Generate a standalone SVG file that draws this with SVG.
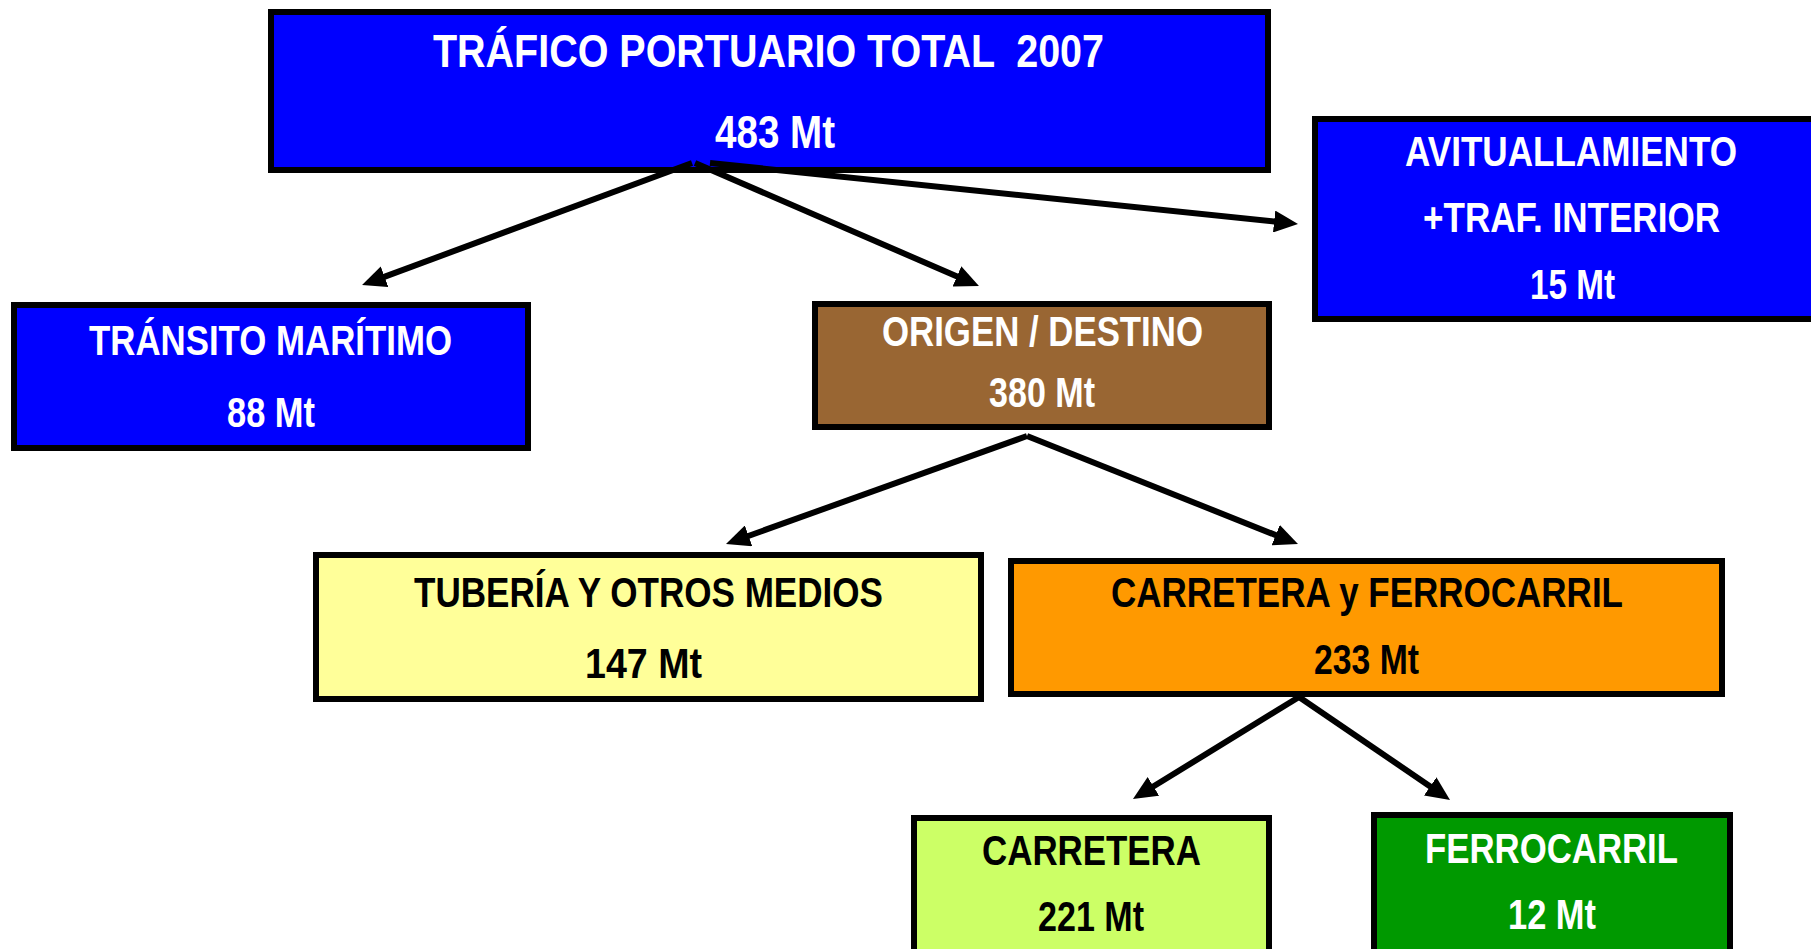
<svg xmlns="http://www.w3.org/2000/svg" width="1811" height="949" viewBox="0 0 1811 949">
<style>
.box{stroke:#000;stroke-width:6}
.t{font-family:"Liberation Sans Narrow","Liberation Sans",Arial,sans-serif;font-weight:bold;font-size:43px}
.big{font-size:46px}
.w{fill:#fff}
.k{fill:#000}
.c{fill:none;stroke:#000;stroke-width:6}
</style>
<defs>
<marker id="ah" markerUnits="userSpaceOnUse" markerWidth="24" markerHeight="22" refX="4" refY="11" orient="auto" viewBox="0 0 24 22">
<path d="M0,0 L24,11 L0,22 z" fill="#000"/>
</marker>
</defs>
<rect width="1811" height="949" fill="#fff"/>
<g id="total">
<rect class="box" x="271" y="12" width="997" height="158" fill="#0000FF"/>
<text class="t big w" x="433" y="67" textLength="671" lengthAdjust="spacingAndGlyphs" xml:space="preserve">TRÁFICO PORTUARIO TOTAL  2007</text>
<text class="t big w" x="715" y="148" textLength="120" lengthAdjust="spacingAndGlyphs">483 Mt</text>
</g>
<g id="transito">
<rect class="box" x="14" y="305" width="514" height="143" fill="#0000FF"/>
<text class="t w" x="89" y="355" textLength="363" lengthAdjust="spacingAndGlyphs">TRÁNSITO MARÍTIMO</text>
<text class="t w" x="227" y="427" textLength="88" lengthAdjust="spacingAndGlyphs">88 Mt</text>
</g>
<g id="origen">
<rect class="box" x="815" y="304" width="454" height="123" fill="#996633"/>
<text class="t w" x="882" y="346" textLength="321" lengthAdjust="spacingAndGlyphs">ORIGEN / DESTINO</text>
<text class="t w" x="989" y="407" textLength="106" lengthAdjust="spacingAndGlyphs">380 Mt</text>
</g>
<g id="avituallamiento">
<rect class="box" x="1315" y="119" width="520" height="200" fill="#0000FF"/>
<text class="t w" x="1405" y="166" textLength="332" lengthAdjust="spacingAndGlyphs">AVITUALLAMIENTO</text>
<text class="t w" x="1423" y="232" textLength="297" lengthAdjust="spacingAndGlyphs">+TRAF. INTERIOR</text>
<text class="t w" x="1530" y="299" textLength="85" lengthAdjust="spacingAndGlyphs">15 Mt</text>
</g>
<g id="tuberia">
<rect class="box" x="316" y="555" width="665" height="144" fill="#FFFF99"/>
<text class="t k" x="414" y="607" textLength="469" lengthAdjust="spacingAndGlyphs">TUBERÍA Y OTROS MEDIOS</text>
<text class="t k" x="585" y="678" textLength="117" lengthAdjust="spacingAndGlyphs">147 Mt</text>
</g>
<g id="carretera-ferrocarril">
<rect class="box" x="1011" y="561" width="711" height="133" fill="#FF9900"/>
<text class="t k" x="1111" y="607" textLength="512" lengthAdjust="spacingAndGlyphs">CARRETERA y FERROCARRIL</text>
<text class="t k" x="1314" y="674" textLength="105" lengthAdjust="spacingAndGlyphs">233 Mt</text>
</g>
<g id="carretera">
<rect class="box" x="914" y="818" width="355" height="200" fill="#CCFF66"/>
<text class="t k" x="982" y="865" textLength="219" lengthAdjust="spacingAndGlyphs">CARRETERA</text>
<text class="t k" x="1038" y="931" textLength="106" lengthAdjust="spacingAndGlyphs">221 Mt</text>
</g>
<g id="ferrocarril">
<rect class="box" x="1374" y="815" width="356" height="200" fill="#009900"/>
<text class="t w" x="1425" y="863" textLength="253" lengthAdjust="spacingAndGlyphs">FERROCARRIL</text>
<text class="t w" x="1508" y="929" textLength="88" lengthAdjust="spacingAndGlyphs">12 Mt</text>
</g>
<g id="connectors">
<line class="c" x1="692" y1="163" x2="380.8" y2="278.1" marker-end="url(#ah)"/>
<line class="c" x1="695" y1="163" x2="960.6" y2="278" marker-end="url(#ah)"/>
<line class="c" x1="710" y1="163" x2="1278.1" y2="221.9" marker-end="url(#ah)"/>
<line class="c" x1="1027" y1="436" x2="744.8" y2="537.2" marker-end="url(#ah)"/>
<line class="c" x1="1027" y1="436" x2="1279.4" y2="536.6" marker-end="url(#ah)"/>
<line class="c" x1="1299" y1="697" x2="1150" y2="788.5" marker-end="url(#ah)"/>
<line class="c" x1="1299" y1="697" x2="1433.5" y2="788.7" marker-end="url(#ah)"/>
</g>
</svg>
